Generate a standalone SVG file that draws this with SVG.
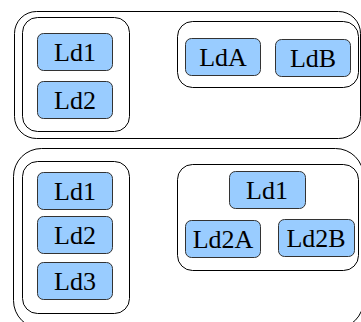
<svg xmlns="http://www.w3.org/2000/svg" width="361" height="322" viewBox="0 0 361 322">
<defs>
<style type="text/css">
.outer{fill:none;stroke:#000;stroke-width:1}
.grp{fill:none;stroke:#000;stroke-width:1}
.box{fill:#99ccff;stroke:#333;stroke-width:1}
</style>
</defs>
<g id="containers">
<rect id="top-outer" class="outer" x="14.5" y="11.5" width="346" height="127" rx="22"/>
<rect id="top-left-group" class="grp" x="22.5" y="17.5" width="107" height="114" rx="15"/>
<rect id="top-right-group" class="grp" x="177.5" y="21.5" width="181" height="66" rx="15"/>
<rect id="bottom-outer" class="outer" x="13.5" y="148.5" width="350" height="180" rx="28"/>
<rect id="bottom-left-group" class="grp" x="22.5" y="161.5" width="107" height="152" rx="15"/>
<rect id="bottom-right-group" class="grp" x="177.5" y="164.5" width="181" height="106" rx="15"/>
</g>
<g id="connectors"/>
<g font-family="'Liberation Serif', 'DejaVu Serif', serif" font-size="26" text-anchor="middle" fill="#000">
<g id="n-top-ld1"><rect class="box" x="37.5" y="33.5" width="75" height="37" rx="6"/><text x="75" y="61">Ld1</text></g>
<g id="n-top-ld2"><rect class="box" x="37.5" y="81.5" width="75" height="37" rx="6"/><text x="75" y="109">Ld2</text></g>
<g id="n-top-ldA"><rect class="box" x="185.5" y="38.5" width="75" height="37" rx="6"/><text x="223" y="66">LdA</text></g>
<g id="n-top-ldB"><rect class="box" x="275.5" y="39.5" width="75" height="37" rx="6"/><text x="313" y="67">LdB</text></g>
<g id="n-bot-ld1"><rect class="box" x="37.5" y="172.5" width="75" height="37" rx="6"/><text x="75" y="200">Ld1</text></g>
<g id="n-bot-ld2"><rect class="box" x="37.5" y="216.5" width="75" height="37" rx="6"/><text x="75" y="244">Ld2</text></g>
<g id="n-bot-ld3"><rect class="box" x="37.5" y="262.5" width="75" height="37" rx="6"/><text x="75" y="290">Ld3</text></g>
<g id="n-bot-r-ld1"><rect class="box" x="229.5" y="171.5" width="76" height="37" rx="6"/><text x="267" y="199">Ld1</text></g>
<g id="n-bot-ld2A"><rect class="box" x="185.5" y="220.5" width="75" height="37" rx="6"/><text x="223" y="248">Ld2A</text></g>
<g id="n-bot-ld2B"><rect class="box" x="278.5" y="219.5" width="76" height="37" rx="6"/><text x="316" y="247">Ld2B</text></g>
</g>
</svg>
